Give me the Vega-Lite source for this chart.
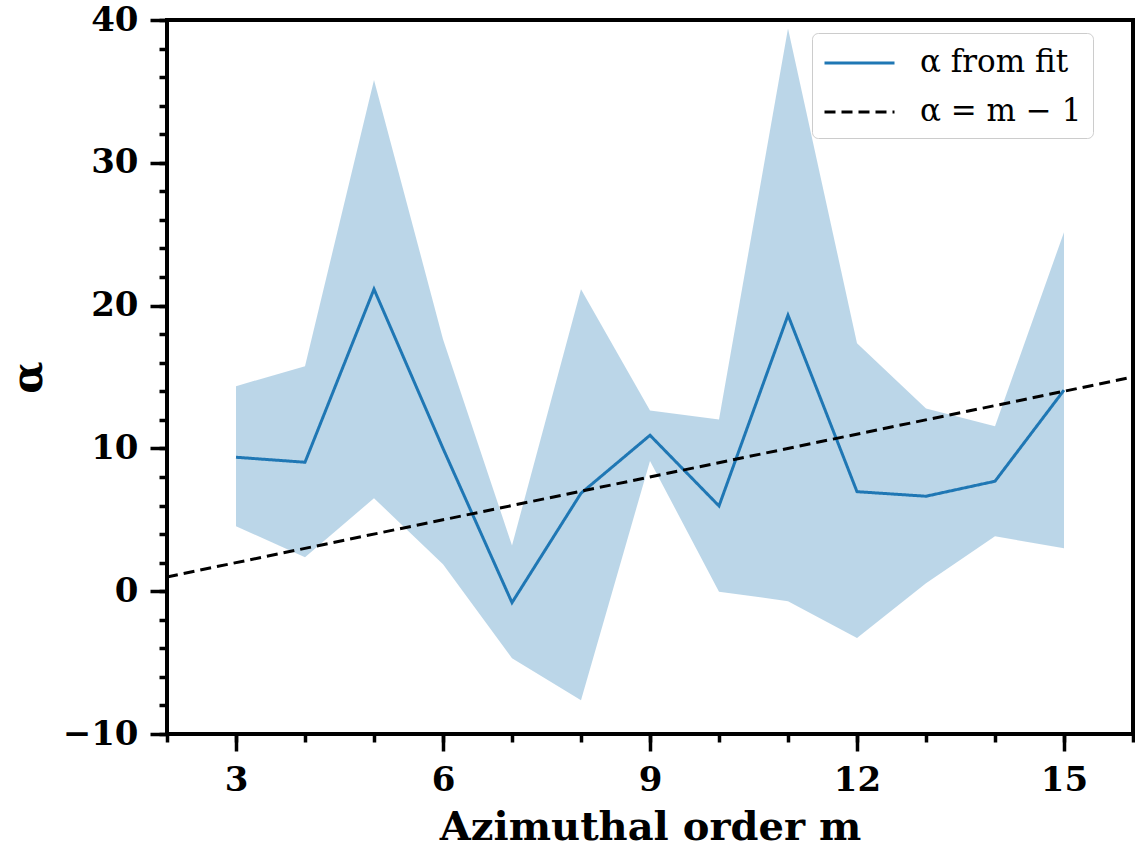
{
  "$schema": "https://vega.github.io/schema/vega-lite/v6.json",
  "width": 966,
  "height": 714,
  "autosize": "none",
  "padding": {"left": 167, "top": 20, "right": 2, "bottom": 116},
  "background": "white",
  "config": {
    "view": {"stroke": "black", "strokeWidth": 4},
    "axis": {
      "domain": false,
      "grid": false,
      "tickColor": "black",
      "tickWidth": 3.5,
      "labelFont": "DejaVu Serif",
      "labelFontWeight": "bold",
      "labelFontSize": 34,
      "labelColor": "black",
      "titleFont": "DejaVu Serif",
      "titleFontWeight": "bold",
      "titleColor": "black"
    }
  },
  "resolve": {"axis": {"x": "independent", "y": "independent"}},
  "layer": [
    {
      "data": {"name": "fit", "values": [
        {"m": 3, "a": 9.38, "lo": 4.55, "hi": 14.36},
        {"m": 4, "a": 9.03, "lo": 2.38, "hi": 15.76},
        {"m": 5, "a": 21.15, "lo": 6.51, "hi": 35.8},
        {"m": 6, "a": 10.0, "lo": 1.89, "hi": 17.65},
        {"m": 7, "a": -0.8, "lo": -4.7, "hi": 3.2},
        {"m": 8, "a": 6.86, "lo": -7.63, "hi": 21.15},
        {"m": 9, "a": 10.92, "lo": 9.12, "hi": 12.65},
        {"m": 10, "a": 5.97, "lo": -0.03, "hi": 12.03},
        {"m": 11, "a": 19.33, "lo": -0.7, "hi": 39.4},
        {"m": 12, "a": 6.97, "lo": -3.28, "hi": 17.37},
        {"m": 13, "a": 6.65, "lo": 0.56, "hi": 12.8},
        {"m": 14, "a": 7.7, "lo": 3.85, "hi": 11.55},
        {"m": 15, "a": 14.08, "lo": 3.0, "hi": 25.14}
      ]},
      "mark": {"type": "area", "color": "#1f77b4", "opacity": 0.3},
      "encoding": {
        "x": {"field": "m", "type": "quantitative",
              "scale": {"domain": [2, 16], "nice": false, "zero": false},
              "axis": {"values": [2,3,4,5,6,7,8,9,10,11,12,13,14,15,16], "labels": false, "title": null, "tickSize": 8, "orient": "bottom"}},
        "y": {"field": "lo", "type": "quantitative",
              "scale": {"domain": [-10, 40], "nice": false, "zero": false},
              "axis": {"values": [-10,-8,-6,-4,-2,0,2,4,6,8,10,12,14,16,18,20,22,24,26,28,30,32,34,36,38,40], "labels": false, "title": null, "tickSize": 8, "orient": "left"}},
        "y2": {"field": "hi"}
      }
    },
    {
      "data": {"name": "fit"},
      "transform": [{"calculate": "'α from fit'", "as": "series"}],
      "mark": {"type": "line", "strokeWidth": 3},
      "encoding": {
        "x": {"field": "m", "type": "quantitative",
              "axis": {"values": [3, 6, 9, 12, 15], "tickSize": 17, "labelPadding": 12, "title": "Azimuthal order m", "titleFontSize": 40, "titlePadding": 10, "orient": "bottom"}},
        "y": {"field": "a", "type": "quantitative",
              "axis": {"values": [-10, 0, 10, 20, 30, 40], "tickSize": 17, "labelPadding": 12, "title": "α", "titleFontSize": 42, "titlePadding": 12, "orient": "left"}},
        "color": {"field": "series", "type": "nominal",
                  "scale": {"domain": ["α from fit", "α = m − 1"], "range": ["#1f77b4", "black"]},
                  "legend": {
                    "title": null, "orient": "none", "legendX": 645, "legendY": 13,
                    "symbolType": "M-1,0H3", "symbolSize": 1225, "symbolStrokeWidth": 3,
                    "labelFont": "DejaVu Serif", "labelFontSize": 31, "labelColor": "black", "labelLimit": 400,
                    "rowPadding": 15, "labelOffset": 59,
                    "padding": 11, "strokeColor": "#cccccc", "fillColor": "white", "cornerRadius": 6
                  }},
        "strokeDash": {"field": "series", "type": "nominal",
                       "scale": {"domain": ["α from fit", "α = m − 1"], "range": [[1, 0], [11, 6]]},
                       "legend": null}
      }
    },
    {
      "data": {"values": [
        {"m": 2, "a": 1, "series": "α = m − 1"},
        {"m": 16, "a": 15, "series": "α = m − 1"}
      ]},
      "mark": {"type": "line", "strokeWidth": 3},
      "encoding": {
        "x": {"field": "m", "type": "quantitative", "axis": null},
        "y": {"field": "a", "type": "quantitative", "axis": null},
        "color": {"field": "series", "type": "nominal"},
        "strokeDash": {"field": "series", "type": "nominal"}
      }
    }
  ]
}
